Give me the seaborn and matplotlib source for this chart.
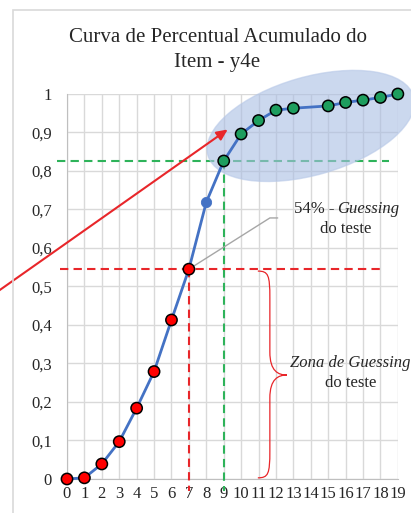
import numpy as np
import pandas as pd
import matplotlib
matplotlib.use("Agg")
import matplotlib.pyplot as plt
import seaborn as sns
from matplotlib.patches import Ellipse, Rectangle, PathPatch
from matplotlib.path import Path
from matplotlib.transforms import ScaledTranslation

# dados (percentual acumulado por pontuacao)
pontuacao = [0, 1, 2, 3, 4, 5, 6, 7, 8, 9, 10, 11, 12, 13, 15, 16, 17, 18, 19]
perc_acum = [0.0, 0.003, 0.039, 0.097, 0.184, 0.279, 0.413, 0.545, 0.719, 0.826,
             0.896, 0.931, 0.958, 0.963, 0.969, 0.978, 0.984, 0.991, 1.0]
grupo = ['guessing'] * 8 + ['meio'] + ['acerto'] * 10
cores = {'guessing': '#FF0000', 'meio': '#4472C4', 'acerto': '#1E9E5E'}

guessing_x, guessing_y = 7, 0.545   # 54% - guessing
corte_x, corte_y = 9, 0.826

x_ticks = list(range(0, 20))
y_ticks = [0, 0.1, 0.2, 0.3, 0.4, 0.5, 0.6, 0.7, 0.8, 0.9, 1.0]
y_labels = ['0', '0,1', '0,2', '0,3', '0,4', '0,5', '0,6', '0,7', '0,8', '0,9', '1']

df = pd.DataFrame({'Pontuacao': pontuacao, 'Perc': perc_acum, 'Grupo': grupo})

sns.set_style('white')
plt.rcParams['font.family'] = ['Liberation Serif', 'DejaVu Serif']

fig = plt.figure(figsize=(4.11, 5.13), dpi=100)
ax = fig.add_axes([0.163, 0.0663, 0.805, 0.7505])

# moldura do grafico (estilo excel)
fig.patches.append(Rectangle((13 / 411, -0.05), 1.2, 1 - 10 / 513 + 0.05, transform=fig.transFigure,
                             fill=False, edgecolor='#d9d9d9', linewidth=1.2))

# linha azul
sns.lineplot(data=df, x='Pontuacao', y='Perc', ax=ax, color='#4472C4', linewidth=2.0,
             zorder=7, clip_on=False)

# pontos
df_borda = df[df['Grupo'] != 'meio']
sns.scatterplot(data=df_borda, x='Pontuacao', y='Perc', hue='Grupo', palette=cores, ax=ax,
                s=66, edgecolor='black', linewidth=1.1, zorder=8, clip_on=False, legend=False)
sns.scatterplot(data=df[df['Grupo'] == 'meio'], x='Pontuacao', y='Perc', ax=ax,
                color=cores['meio'], s=55, edgecolor=cores['meio'], zorder=8, clip_on=False, legend=False)

# linhas tracejadas
ax.plot([-0.57, 18.5], [corte_y, corte_y], color='#2EB35A', lw=1.5, dashes=(4, 2.5), clip_on=False, zorder=4)
ax.plot([corte_x, corte_x], [corte_y, -0.03], color='#2EB35A', lw=1.5, dashes=(4, 2.5), clip_on=False, zorder=4)
ax.plot([-0.4, 18.1], [guessing_y, guessing_y], color='#E8262A', lw=1.5, dashes=(4, 2.5), clip_on=False, zorder=4)
ax.plot([guessing_x, guessing_x], [guessing_y, -0.03], color='#E8262A', lw=1.5, dashes=(4, 2.5), clip_on=False, zorder=4)

# elipse azul clara
trans_el = fig.dpi_scale_trans + ScaledTranslation(14.0, 0.917, ax.transData)
ax.add_patch(Ellipse((0, 0), 2.14, 0.98, angle=16, transform=trans_el, facecolor='#A9BEE3',
                     edgecolor='#B8C9E8', alpha=0.6, zorder=5, clip_on=False))

# seta vermelha
ax.annotate('', xy=(9.36, 0.912), xytext=(-4.2, 0.48),
            arrowprops=dict(arrowstyle='-|>,head_length=0.65,head_width=0.3', color='#E8262A', lw=1.5),
            annotation_clip=False, zorder=6)

# conector cinza + texto 54%
ax.plot([guessing_x, 11.65, 12.1], [guessing_y, 0.678, 0.678], color='#a6a6a6', lw=1.0, clip_on=False, zorder=4)
ax.text(15.35, 0.700, '54% -', ha='right', va='center', fontsize=12)
ax.text(15.5, 0.700, 'Guessing', ha='left', va='center', fontsize=12, style='italic')
ax.text(16.0, 0.649, 'do teste', ha='center', va='center', fontsize=12)

# chave (zona de guessing)
xa, xb, xc = 10.96, 11.65, 12.63
ytop, ybot, ymid = guessing_y - 0.005, 0.003, 0.27
verts = [(xa, ytop),
         (xa + 0.6, ytop), (xb, ytop - 0.01), (xb, ytop - 0.07),
         (xb, ymid + 0.06),
         (xb, ymid + 0.01), (xc - 0.5, ymid), (xc, ymid),
         (xc - 0.5, ymid), (xb, ymid - 0.01), (xb, ymid - 0.06),
         (xb, ybot + 0.07),
         (xb, ybot + 0.01), (xa + 0.6, ybot), (xa, ybot)]
codes = [Path.MOVETO, Path.CURVE4, Path.CURVE4, Path.CURVE4, Path.LINETO,
         Path.CURVE4, Path.CURVE4, Path.CURVE4, Path.CURVE4, Path.CURVE4, Path.CURVE4,
         Path.LINETO, Path.CURVE4, Path.CURVE4, Path.CURVE4]
ax.add_patch(PathPatch(Path(verts, codes), fill=False, edgecolor='#E8262A', lw=0.9, zorder=4, clip_on=False))
ax.text(12.8, 0.301, 'Zona de Guessing', ha='left', va='center', fontsize=12, style='italic', clip_on=False)
ax.text(16.3, 0.249, 'do teste', ha='center', va='center', fontsize=12)

# eixos
ax.set_xlim(0, 19)
ax.set_ylim(0, 1)
ax.set_xticks(x_ticks)
ax.set_xticklabels([str(v) for v in x_ticks], fontsize=12)
ax.set_yticks(y_ticks)
ax.set_yticklabels(y_labels, fontsize=12)
ax.tick_params(axis='both', length=0)
ax.tick_params(axis='y', pad=11)
ax.tick_params(axis='x', pad=5)
ax.grid(True, color='#d9d9d9', linewidth=1.0)
ax.set_axisbelow(True)
for s in ['top', 'right']:
    ax.spines[s].set_visible(False)
ax.spines['left'].set_color('#bfbfbf')
ax.spines['bottom'].set_color('#bfbfbf')
ax.set_xlabel('')
ax.set_ylabel('')

fig.text(217.5 / 411, 1 - 50 / 513, 'Curva de Percentual Acumulado do\nItem - y4e',
         ha='center', va='center', fontsize=15, linespacing=1.45)

fig.savefig('out.png', dpi=100)
